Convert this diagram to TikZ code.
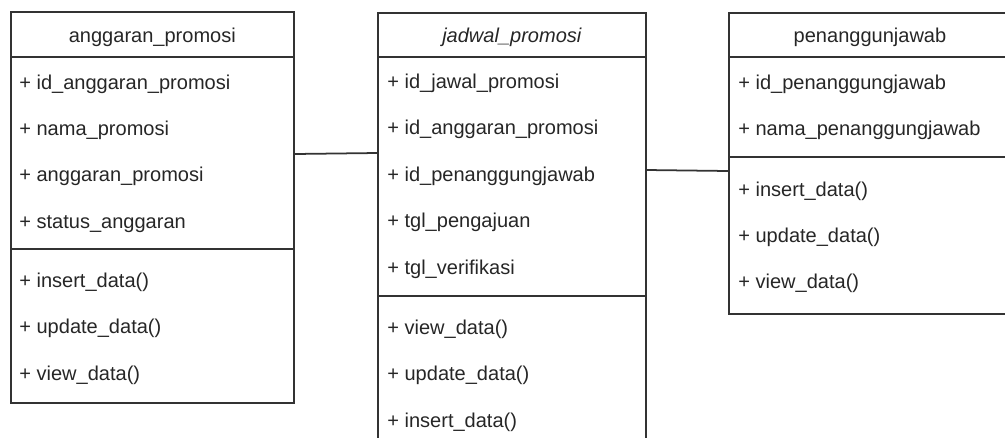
\documentclass[tikz,border=0pt]{standalone}
\usepackage{fontspec}
\setmainfont{Liberation Sans}
\begin{document}
\begin{tikzpicture}[x=0.02cm,y=-0.02cm,
kelas/.style={draw=black!80,line width=1pt,anchor=north west,inner sep=0pt},
judul/.style={anchor=base,inner sep=0pt,text=black!85,font=\fontsize{11.4}{13}\selectfont},
baris/.style={anchor=base west,inner sep=0pt,text=black!85,font=\fontsize{11.4}{13}\selectfont},
garis/.style={draw=black!80,line width=1pt}]
\useasboundingbox(0,0)rectangle(1005,437);
\clip(0,0)rectangle(1005,437);
% kelas
\node[kelas,minimum width=5.66cm,minimum height=7.82cm](anggaran)at(10,11){};
\node[kelas,minimum width=5.36cm,minimum height=8.96cm](jadwal)at(377,12){};
\node[kelas,minimum width=5.68cm,minimum height=6.02cm](pj)at(728,12){};
\draw[garis](anggaran.west|-0,57)--(anggaran.east|-0,57)(anggaran.west|-0,249)--(anggaran.east|-0,249);
\draw[garis](jadwal.west|-0,57)--(jadwal.east|-0,57)(jadwal.west|-0,296)--(jadwal.east|-0,296);
\draw[garis](pj.west|-0,57)--(pj.east|-0,57)(pj.west|-0,157)--(pj.east|-0,157);
% judul
\node[judul](tanggaran)at(anggaran.north|-0,42){anggaran\_promosi};
\node[judul](tjadwal)at(jadwal.north|-0,42){\itshape jadwal\_promosi};
\node[judul](tpj)at(870,42){penanggunjawab};
% atribut dan operasi
\foreach \s[count=\i] in {id\_anggaran\_promosi,nama\_promosi,anggaran\_promosi,status\_anggaran}
\node[baris](a\i)at(19,{89+46.4*(\i-1)}){+ \s};
\foreach \s[count=\i] in {insert\_data(),update\_data(),view\_data()}
\node[baris](am\i)at(19,{287+46.5*(\i-1)}){+ \s};
\foreach \s[count=\i] in {id\_jawal\_promosi,id\_anggaran\_promosi,id\_penanggungjawab,tgl\_pengajuan,tgl\_verifikasi}
\node[baris](j\i)at(387,{88+46.5*(\i-1)}){+ \s};
\foreach \s[count=\i] in {view\_data(),update\_data(),insert\_data()}
\node[baris](jm\i)at(387,{334+46.5*(\i-1)}){+ \s};
\foreach \s[count=\i] in {id\_penanggungjawab,nama\_penanggungjawab}
\node[baris](p\i)at(738,{89+46.5*(\i-1)}){+ \s};
\foreach \s[count=\i] in {insert\_data(),update\_data(),view\_data()}
\node[baris](pm\i)at(738,{196+46.3*(\i-1)}){+ \s};
% relasi
\draw[garis](anggaran.east|-0,154)--(jadwal.west|-0,153);
\draw[garis](jadwal.east|-0,170)--(pj.west|-0,171);
\end{tikzpicture}
\end{document}
